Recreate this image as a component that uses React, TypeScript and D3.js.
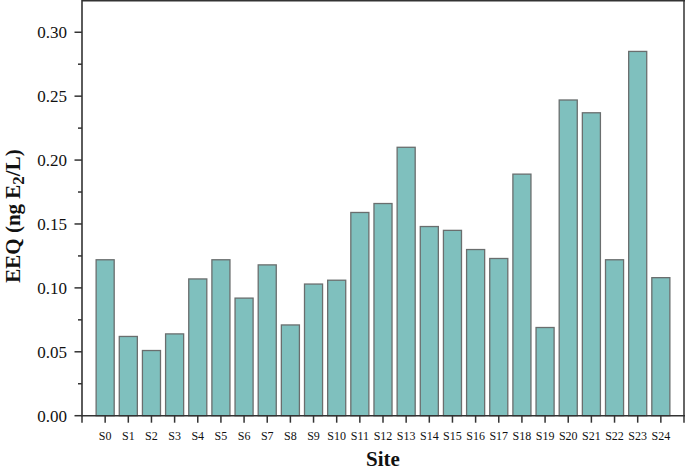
import React from "react";
import * as d3 from "d3";

const sites = ["S0","S1","S2","S3","S4","S5","S6","S7","S8","S9","S10","S11","S12","S13","S14","S15","S16","S17","S18","S19","S20","S21","S22","S23","S24"];
const eeq = [0.122,0.062,0.051,0.064,0.107,0.122,0.092,0.118,0.071,0.103,0.106,0.159,0.166,0.210,0.148,0.145,0.130,0.123,0.189,0.069,0.247,0.237,0.122,0.285,0.108];
const yTicks = [0, 0.05, 0.1, 0.15, 0.2, 0.25, 0.3];
const yMinor = [0.025, 0.075, 0.125, 0.175, 0.225, 0.275];

const W = 685, H = 472;
const L = 82, R = 684, T = 0.3, B = 415.7;
const FONT = "Liberation Serif, Times New Roman, serif";

export default function App() {
  const x = d3.scalePoint<string>().domain(sites).range([L, R]).padding(1);
  const y = d3.scaleLinear().domain([0, 0.325]).range([B, T]);
  const bw = x.step() * 0.78;
  const axisColor = "#333";
  return (
    <svg width={W} height={H} style={{ position: "absolute", left: 0, top: 0, background: "#fff" }}>
      <rect x={0} y={0} width={W} height={H} fill="#fff" />
      {sites.map((s, i) => (
        <rect key={s} x={x(s)! - bw / 2} y={y(eeq[i])} width={bw} height={B - y(eeq[i])}
          fill="#7fc0be" stroke="#6a6e6e" strokeWidth={1.3} />
      ))}
      {/* frame */}
      <line x1={L} x2={R + 1} y1={0.8} y2={0.8} stroke={axisColor} strokeWidth={1.5} />
      <line x1={R} x2={R} y1={0} y2={B} stroke={axisColor} strokeWidth={1.5} />
      <line x1={L} x2={L} y1={0} y2={B + 0.75} stroke={axisColor} strokeWidth={1.6} />
      <line x1={L} x2={R + 1} y1={B} y2={B} stroke={axisColor} strokeWidth={1.6} />
      {/* y ticks */}
      {yTicks.map(t => (
        <g key={t}>
          <line x1={L - 7.5} x2={L} y1={y(t)} y2={y(t)} stroke={axisColor} strokeWidth={1.5} />
          <text x={67} y={y(t)} dy="0.35em" textAnchor="end" fontFamily={FONT} fontSize={17} fill="#111">{d3.format(".2f")(t)}</text>
        </g>
      ))}
      {yMinor.map(t => (
        <line key={t} x1={L - 4} x2={L} y1={y(t)} y2={y(t)} stroke={axisColor} strokeWidth={1.5} />
      ))}
      {/* x ticks */}
      {[L, ...sites.map(s => x(s)!), R].map((px, i) => (
        <line key={i} x1={px} x2={px} y1={B} y2={B + 7} stroke={axisColor} strokeWidth={1.5} />
      ))}
      {sites.map(s => (
        <text key={s} x={x(s)!} y={440} textAnchor="middle" fontFamily={FONT} fontSize={12} fill="#111">{s}</text>
      ))}
      <text x={(L + R) / 2} y={466} textAnchor="middle" fontFamily={FONT} fontSize={21} fontWeight="bold" fill="#111">Site</text>
      <text transform={`translate(20,216) rotate(-90)`} textAnchor="middle" fontFamily={FONT} fontSize={21} fontWeight="bold" fill="#111">
        EEQ (ng E<tspan fontSize={17} dy={4}>2</tspan><tspan dy={-4}>/L)</tspan>
      </text>
    </svg>
  );
}
